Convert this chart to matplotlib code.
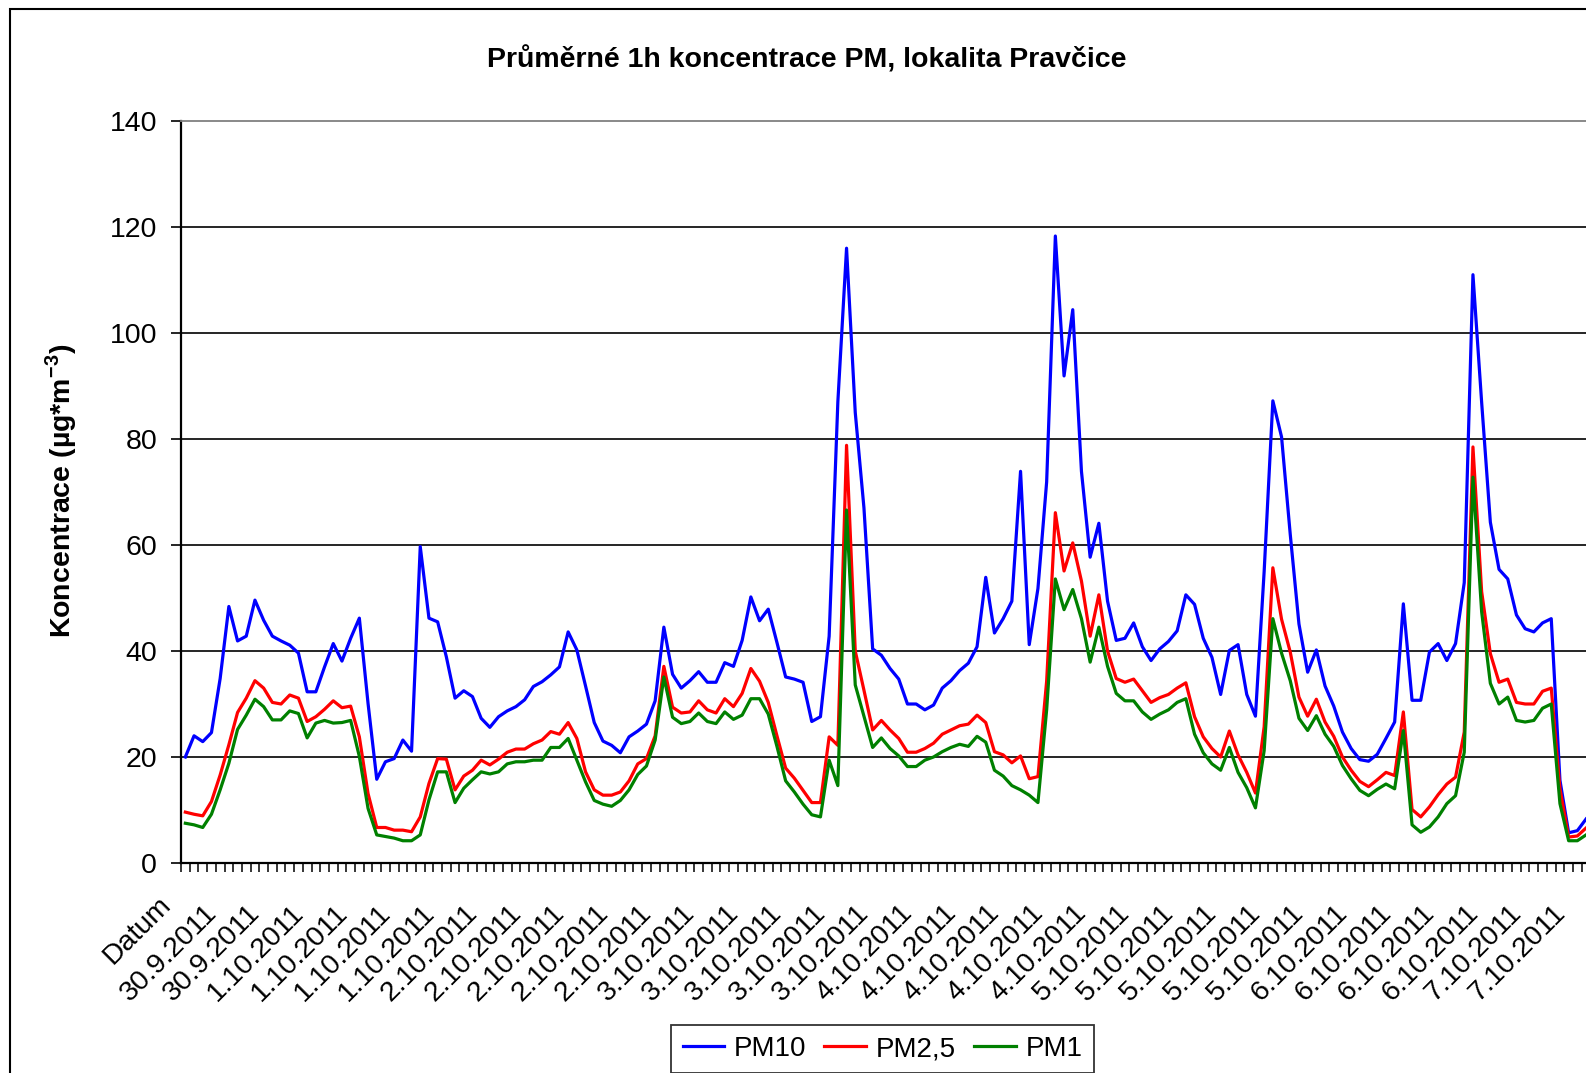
import numpy as np
import matplotlib
matplotlib.use('Agg')
import matplotlib.pyplot as plt
import matplotlib.transforms as mtransforms
from matplotlib.patches import Rectangle

plt.rcParams['font.family'] = ['Liberation Sans', 'DejaVu Sans']
plt.rcParams['mathtext.fontset'] = 'custom'
plt.rcParams['mathtext.rm'] = 'Liberation Sans'
plt.rcParams['mathtext.bf'] = 'Liberation Sans:bold'

# hourly averages, one value per category
pm10 = [20.0, 24.0, 22.9, 24.6, 34.8, 48.4, 41.9, 42.8, 49.6, 45.8,
        42.8, 41.9, 41.1, 39.6, 32.3, 32.3, 37.0, 41.4, 38.1, 42.4,
        46.2, 30.1, 15.8, 19.1, 19.7, 23.2, 21.1, 59.7, 46.2, 45.5,
        38.9, 31.1, 32.5, 31.4, 27.3, 25.6, 27.6, 28.7, 29.5, 30.8,
        33.3, 34.2, 35.5, 37.0, 43.6, 40.2, 33.4, 26.5, 23.0, 22.2,
        20.8, 23.8, 24.9, 26.2, 30.6, 44.5, 35.6, 33.0, 34.4, 36.1,
        34.1, 34.1, 37.8, 37.1, 42.0, 50.2, 45.7, 47.9, 41.6, 35.1,
        34.7, 34.1, 26.7, 27.6, 42.8, 87.0, 116.0, 85.0, 67.0, 40.4,
        39.2, 36.7, 34.7, 30.0, 30.0, 28.9, 29.8, 33.0, 34.4, 36.3,
        37.7, 40.8, 53.9, 43.4, 46.1, 49.4, 73.9, 41.2, 51.8, 71.9,
        118.3, 91.9, 104.4, 73.9, 57.7, 64.1, 49.4, 42.0, 42.4, 45.3,
        40.8, 38.2, 40.4, 41.8, 43.8, 50.6, 48.8, 42.4, 38.8, 31.8,
        40.1, 41.2, 31.8, 27.7, 55.0, 87.2, 80.4, 62.0, 45.1, 36.0,
        40.2, 33.4, 29.6, 24.7, 21.6, 19.5, 19.2, 20.5, 23.5, 26.6,
        48.9, 30.7, 30.7, 39.8, 41.4, 38.2, 41.4, 52.9, 111.0, 86.9,
        64.3, 55.4, 53.6, 46.8, 44.2, 43.6, 45.3, 46.1, 15.6, 5.7,
        6.1, 8.3]

pm25 = [9.6, 9.2, 8.9, 11.6, 16.6, 22.3, 28.4, 31.1, 34.4, 33.0,
        30.3, 30.0, 31.7, 31.1, 26.7, 27.6, 29.0, 30.6, 29.3, 29.6,
        23.8, 13.1, 6.7, 6.7, 6.2, 6.2, 5.9, 8.7, 15.0, 19.7,
        19.6, 13.8, 16.4, 17.5, 19.4, 18.5, 19.6, 20.9, 21.5, 21.5,
        22.5, 23.2, 24.8, 24.3, 26.5, 23.5, 17.2, 13.8, 12.8, 12.8,
        13.4, 15.5, 18.7, 19.7, 24.0, 37.1, 29.4, 28.3, 28.5, 30.6,
        28.9, 28.3, 31.0, 29.5, 32.0, 36.7, 34.3, 30.3, 24.0, 17.9,
        16.0, 13.7, 11.4, 11.4, 23.8, 22.2, 78.8, 40.0, 32.6, 25.1,
        26.9, 25.1, 23.5, 20.9, 20.9, 21.6, 22.6, 24.3, 25.1, 25.9,
        26.2, 27.9, 26.5, 21.0, 20.4, 18.9, 20.2, 15.9, 16.3, 34.3,
        66.1, 55.1, 60.4, 53.2, 42.8, 50.6, 40.0, 34.8, 34.1, 34.7,
        32.5, 30.3, 31.2, 31.8, 33.0, 34.0, 27.6, 23.8, 21.6, 20.0,
        24.9, 20.4, 17.1, 13.2, 25.7, 55.7, 46.0, 39.8, 31.3, 27.7,
        30.9, 26.6, 23.9, 20.0, 17.5, 15.4, 14.4, 15.7, 17.1, 16.5,
        28.5, 10.1, 8.7, 10.6, 12.9, 14.9, 16.2, 24.7, 78.5, 51.2,
        39.5, 34.1, 34.7, 30.3, 30.0, 30.0, 32.4, 33.0, 14.0, 4.9,
        5.1, 6.6]

pm1 = [7.5, 7.2, 6.7, 9.2, 13.8, 18.8, 25.2, 27.9, 30.9, 29.5,
       27.0, 27.0, 28.7, 28.2, 23.6, 26.4, 26.9, 26.4, 26.5, 26.9,
       20.1, 10.3, 5.3, 5.0, 4.7, 4.2, 4.2, 5.3, 11.9, 17.2,
       17.2, 11.4, 14.1, 15.7, 17.2, 16.8, 17.2, 18.7, 19.1, 19.1,
       19.4, 19.4, 21.8, 21.8, 23.5, 19.4, 15.3, 11.8, 11.1, 10.7,
       11.8, 13.8, 16.7, 18.3, 23.2, 35.1, 27.5, 26.3, 26.7, 28.3,
       26.7, 26.3, 28.5, 27.1, 27.9, 31.0, 31.0, 28.1, 22.0, 15.5,
       13.4, 11.1, 9.1, 8.7, 19.4, 14.6, 66.6, 33.6, 27.7, 21.8,
       23.6, 21.6, 20.2, 18.2, 18.2, 19.4, 20.0, 21.0, 21.8, 22.4,
       22.0, 23.9, 22.8, 17.5, 16.4, 14.6, 13.8, 12.8, 11.4, 28.9,
       53.6, 47.8, 51.6, 46.1, 37.9, 44.5, 37.1, 32.0, 30.6, 30.6,
       28.5, 27.1, 28.1, 28.9, 30.3, 31.0, 24.3, 20.8, 18.7, 17.5,
       21.8, 17.1, 14.2, 10.4, 21.2, 46.1, 39.6, 34.4, 27.3, 25.0,
       27.8, 24.3, 22.0, 18.4, 15.9, 13.7, 12.7, 13.9, 14.9, 14.0,
       25.0, 7.2, 5.8, 6.8, 8.7, 11.2, 12.7, 20.9, 72.8, 47.4,
       33.9, 30.0, 31.3, 26.9, 26.6, 26.9, 29.2, 30.0, 11.2, 4.2,
       4.2, 5.3]

# every 5th category carries a label
date_labels = (['Datum'] + ['30.9.2011'] * 2 + ['1.10.2011'] * 4 +
               ['2.10.2011'] * 5 + ['3.10.2011'] * 5 + ['4.10.2011'] * 5 +
               ['5.10.2011'] * 5 + ['6.10.2011'] * 4 + ['7.10.2011'] * 2)

W, H = 1586, 1073
FS = 20.5
fig = plt.figure(figsize=(W / 100, H / 100), dpi=100)

# plot area runs off the right edge like the original screenshot
ax = fig.add_axes([181 / W, 1 - 863 / H, (W - 181) / W, (863 - 121) / H])

x = np.arange(len(pm10))
ax.plot(x, pm10, color='#0000FF', lw=2.3, label='PM10', zorder=3)
ax.plot(x, pm25, color='#FF0000', lw=2.3, label='PM2,5', zorder=3)
ax.plot(x, pm1, color='#008000', lw=2.3, label='PM1', zorder=3)

for yv in range(20, 140, 20):
    ax.axhline(yv, color='black', lw=1.2, zorder=1)

ax.spines['top'].set_color('#808080')
ax.spines['top'].set_linewidth(1.3)
ax.spines['right'].set_visible(False)
ax.spines['left'].set_linewidth(1.6)
ax.spines['bottom'].set_linewidth(1.6)

ax.set_yticks(range(0, 141, 20))
ax.tick_params(axis='y', length=7.2, width=1.2, pad=10, labelsize=FS)

# tick marks between categories, labels drawn as rotated texts
ax.set_xticks([])
ax.set_xticks(np.arange(-0.5, len(pm10) + 1, 1), minor=True)
ax.tick_params(axis='x', which='minor', length=6.5, width=1.1, direction='out')

# limits after set_xticks, which would otherwise widen the view
ax.set_xlim(-0.5, -0.5 + (W - 181) / 8.7)
ax.set_ylim(0, 140)

base = mtransforms.blended_transform_factory(ax.transData, ax.transAxes)
for i, lab in enumerate(date_labels):
    if lab == 'Datum':
        dx, dy = -13.5, 43
    else:
        dx, dy = -11, 51
    tr = base + mtransforms.ScaledTranslation(dx / 100, -dy / 100, fig.dpi_scale_trans)
    ax.text(i * 5, 0, lab, transform=tr, rotation=45, rotation_mode='anchor',
            ha='right', va='baseline', fontsize=FS, clip_on=False)

fig.text(807 / W, 1 - 60 / H, 'Průměrné 1h koncentrace PM, lokalita Pravčice',
         ha='center', va='center', fontsize=FS, fontweight='bold')
fig.text(61 / W, 1 - 491 / H, r'Koncentrace (µg*m$^{\mathbf{-3}}$)',
         rotation=90, ha='center', va='center', fontsize=FS, fontweight='bold')

leg = fig.legend(loc='upper center', bbox_to_anchor=(882.5 / W, 1 - 1025 / H),
                 ncol=3, fontsize=20, frameon=True, fancybox=False,
                 edgecolor='black', handlelength=1.5, handletextpad=0.35,
                 columnspacing=0.65, borderpad=0.4, borderaxespad=0)
leg.get_frame().set_linewidth(1.3)

# outer chart border (right and bottom fall outside the picture)
fig.patches.append(Rectangle((10 / W, -0.5), 2, 1.5 - 9 / H, transform=fig.transFigure,
                             fill=False, ec='black', lw=1.5))

fig.savefig('out.png', dpi=100)
